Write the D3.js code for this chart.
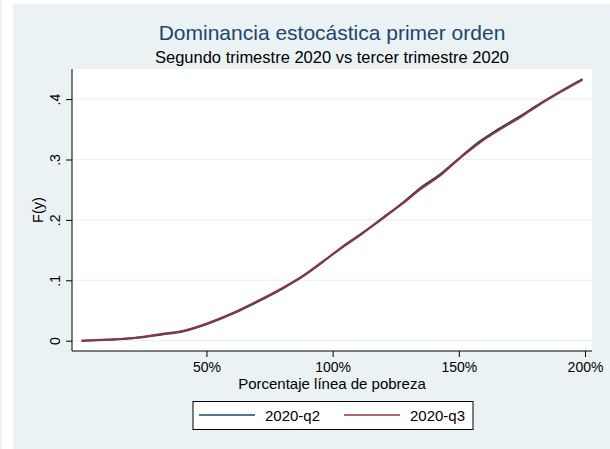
<!DOCTYPE html>
<html>
<head>
<meta charset="utf-8">
<script src="https://cdn.jsdelivr.net/npm/d3@7"></script>
<style>
  html, body { margin: 0; padding: 0; background: #ffffff; }
  svg { display: block; }
  text { font-family: "Liberation Sans", Arial, Helvetica, sans-serif; }
</style>
</head>
<body>
<script>
// Poverty-line percentage (x) and cumulative share F(y) for each quarter
const pctQ3 = [0.5, 11, 21, 32, 41, 50.5, 60, 69, 80, 88, 96, 104, 112, 120, 128, 134.5, 142.5, 150.4, 158.3, 166, 174, 182, 190, 199];
const fQ3   = [0.000, 0.002, 0.0045, 0.011, 0.0166, 0.029, 0.045, 0.063, 0.087, 0.107, 0.131, 0.155, 0.178, 0.204, 0.228, 0.250, 0.273, 0.302, 0.328, 0.349, 0.369, 0.391, 0.411, 0.432];

const pctQ2 = [0.5, 11, 21, 32, 41, 50.5, 60, 69, 80, 88, 96, 104, 112, 120, 128, 134.5, 142.5, 150.4, 158.3, 166, 174, 182, 190, 199];
const fQ2   = [0.000, 0.0015, 0.004, 0.010, 0.0158, 0.028, 0.044, 0.062, 0.086, 0.106, 0.130, 0.156, 0.179, 0.203, 0.229, 0.252, 0.275, 0.303, 0.330, 0.351, 0.371, 0.392, 0.412, 0.433];

const xTicks = [50, 100, 150, 200];
const yTicks = [0, 0.1, 0.2, 0.3, 0.4];
const yTickLabels = ["0", ".1", ".2", ".3", ".4"];

const seriesNames = ["2020-q2", "2020-q3"];
const seriesColors = ["#1a476f", "#90353b"];

const W = 610, H = 449;
const plot = { left: 72, right: 592, top: 69, bottom: 351 };

const svg = d3.select("body").append("svg").attr("width", W).attr("height", H);

// Outer graph region
svg.append("rect").attr("x", 0).attr("y", 0).attr("width", W).attr("height", H).attr("fill", "#ffffff");
svg.append("rect").attr("x", 0).attr("y", 0).attr("width", 2).attr("height", H).attr("fill", "#eaf2f3");
svg.append("rect").attr("x", 13).attr("y", 4).attr("width", W - 13).attr("height", H - 4).attr("fill", "#eaf2f3");

// Plot region
svg.append("rect")
  .attr("x", plot.left).attr("y", plot.top)
  .attr("width", plot.right - plot.left).attr("height", plot.bottom - plot.top)
  .attr("fill", "#ffffff");

const x = d3.scaleLinear().domain([0, 200]).range([80.3, 585]);
const y = d3.scaleLinear().domain([0, 0.4]).range([340.7, 99.1]);

// Horizontal grid lines
svg.append("g").selectAll("line").data(yTicks).join("line")
  .attr("x1", plot.left).attr("x2", plot.right)
  .attr("y1", d => y(d)).attr("y2", d => y(d))
  .attr("stroke", "#eaf2f3").attr("stroke-width", 1.2);

// Series lines
const line = d3.line().x(d => x(d[0])).y(d => y(d[1])).curve(d3.curveMonotoneX);
const dataQ2 = pctQ2.map((p, i) => [p, fQ2[i]]);
const dataQ3 = pctQ3.map((p, i) => [p, fQ3[i]]);
[dataQ2, dataQ3].forEach((d, i) => {
  svg.append("path").datum(d)
    .attr("d", line)
    .attr("fill", "none")
    .attr("stroke", seriesColors[i])
    .attr("stroke-width", 2)
    .attr("stroke-linejoin", "round");
});

// Y axis
const yAxis = d3.axisLeft(y).tickValues(yTicks).tickSize(6).tickFormat((d, i) => yTickLabels[i]);
const gy = svg.append("g").attr("transform", `translate(${plot.left},0)`).call(yAxis);
gy.select(".domain").remove();
gy.selectAll(".tick line").attr("stroke", "#000").attr("stroke-width", 1);
gy.selectAll(".tick text")
  .attr("x", null).attr("dy", null)
  .attr("transform", "translate(-12.5,0) rotate(-90)")
  .attr("text-anchor", "middle")
  .attr("font-size", 14).attr("fill", "#000");
svg.append("line")
  .attr("x1", plot.left).attr("x2", plot.left)
  .attr("y1", plot.top).attr("y2", plot.bottom)
  .attr("stroke", "#000").attr("stroke-width", 1);

// X axis
const xAxis = d3.axisBottom(x).tickValues(xTicks).tickSize(6).tickFormat(d => d + "%");
const gx = svg.append("g").attr("transform", `translate(0,${plot.bottom})`).call(xAxis);
gx.select(".domain").remove();
gx.selectAll(".tick line").attr("stroke", "#000").attr("stroke-width", 1);
gx.selectAll(".tick text")
  .attr("y", 20.5).attr("dy", null)
  .attr("font-size", 14).attr("fill", "#000");
svg.append("line")
  .attr("x1", plot.left).attr("x2", plot.right)
  .attr("y1", plot.bottom).attr("y2", plot.bottom)
  .attr("stroke", "#000").attr("stroke-width", 1);

// Axis titles
svg.append("text")
  .attr("transform", "translate(43,210) rotate(-90)")
  .attr("text-anchor", "middle").attr("font-size", 14.5).attr("fill", "#000")
  .text("F(y)");
svg.append("text")
  .attr("x", 332).attr("y", 389)
  .attr("text-anchor", "middle").attr("font-size", 15).attr("fill", "#000")
  .text("Porcentaje línea de pobreza");

// Titles
svg.append("text")
  .attr("x", 332).attr("y", 40)
  .attr("text-anchor", "middle").attr("font-size", 21).attr("fill", "#1a476f")
  .text("Dominancia estocástica primer orden");
svg.append("text")
  .attr("x", 332).attr("y", 63)
  .attr("text-anchor", "middle").attr("font-size", 16.5).attr("fill", "#000")
  .text("Segundo trimestre 2020 vs tercer trimestre 2020");

// Legend
const legend = svg.append("g");
legend.append("rect")
  .attr("x", 193).attr("y", 401.5).attr("width", 280).attr("height", 28)
  .attr("fill", "#ffffff").attr("stroke", "#000").attr("stroke-width", 1);
const legendX = [199, 344];
seriesNames.forEach((name, i) => {
  legend.append("line")
    .attr("x1", legendX[i]).attr("x2", legendX[i] + 56)
    .attr("y1", 415).attr("y2", 415)
    .attr("stroke", seriesColors[i]).attr("stroke-width", 1.6);
  legend.append("text")
    .attr("x", legendX[i] + 66).attr("y", 421)
    .attr("font-size", 15).attr("fill", "#000")
    .text(name);
});
</script>
</body>
</html>
